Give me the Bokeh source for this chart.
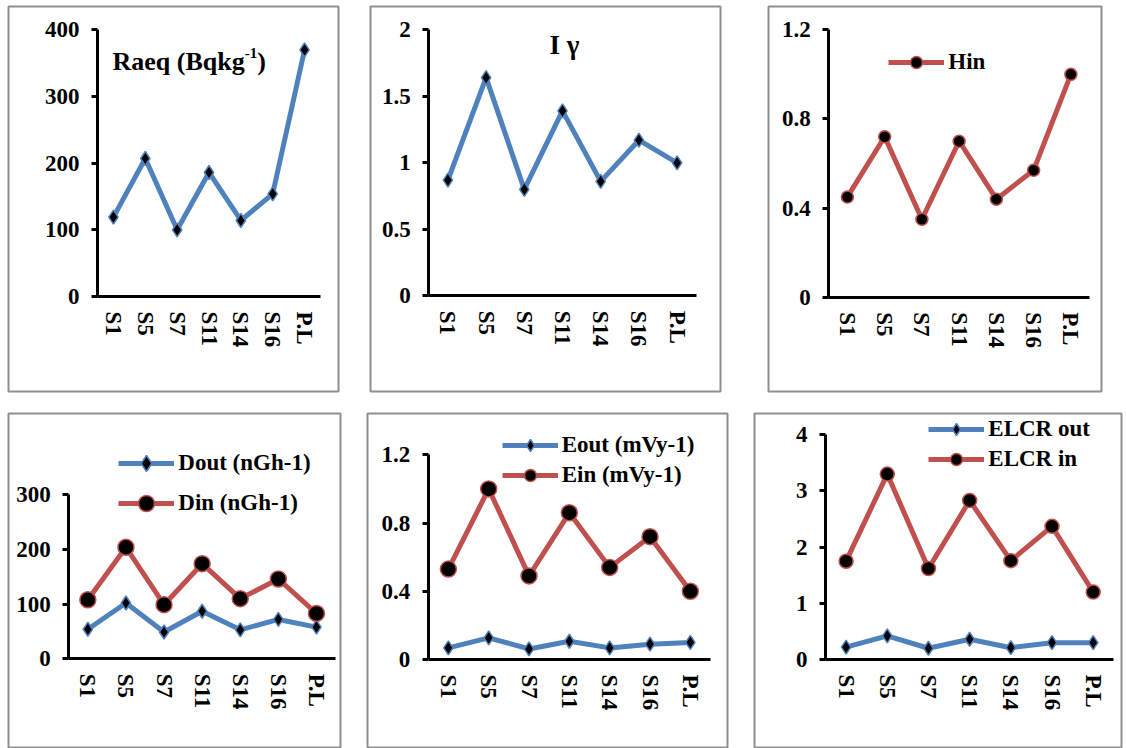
from bokeh.plotting import figure
from bokeh.models import (Range1d, LinearAxis, FixedTicker, NumeralTickFormatter,
                          Legend, LegendItem, Label)
from bokeh.layouts import column, row
from bokeh.embed import file_html
from bokeh.resources import INLINE

# ---------------- data ----------------
sites = ["S1", "S5", "S7", "S11", "S14", "S16", "P.L"]
raeq = [119, 207, 100, 186, 114, 154, 370]
i_gamma = [0.87, 1.64, 0.80, 1.39, 0.86, 1.17, 1.00]
h_in = [0.45, 0.72, 0.35, 0.70, 0.44, 0.57, 1.00]
d_out = [54, 102, 49, 87, 53, 72, 58]
d_in = [108, 204, 99, 174, 110, 146, 83]
e_out = [0.068, 0.127, 0.062, 0.107, 0.068, 0.090, 0.100]
e_in = [0.53, 1.00, 0.49, 0.86, 0.54, 0.72, 0.40]
elcr_out = [0.22, 0.42, 0.20, 0.36, 0.21, 0.30, 0.30]
elcr_in = [1.75, 3.30, 1.62, 2.83, 1.76, 2.37, 1.20]

raeq_ticks = [0, 100, 200, 300, 400]
igamma_ticks = [0, 0.5, 1, 1.5, 2]
hin_ticks = [0, 0.4, 0.8, 1.2]
d_ticks = [0, 100, 200, 300]
e_ticks = [0, 0.4, 0.8, 1.2]
elcr_ticks = [0, 1, 2, 3, 4]

# ---------------- style ----------------
FONT = "Liberation Serif"
BLUE = "#4F81BD"
RED = "#C0504D"
BORDER = "#8F8F8F"
xs = list(range(len(sites)))
n = len(sites)


def make_panel(fig_box, frame_box, axis_geo, ticks):
    fx0, fy0, fx1, fy1 = frame_box
    ax, axend, y0px, ytop = axis_geo
    ymax = ticks[-1]
    ux = n / (axend - ax)
    uy = ymax / (y0px - ytop)
    xr = Range1d(-0.5 - (ax - fx0) * ux, (n - 0.5) + (fx1 - axend) * ux)
    yr = Range1d(-(fy1 - y0px) * uy, ymax + (ytop - fy0) * uy)
    p = figure(width=fig_box[2] - fig_box[0], height=fig_box[3] - fig_box[1],
               x_range=xr, y_range=yr, output_backend="svg", toolbar_location=None,
               x_axis_type=None, y_axis_type=None, title=None,
               min_border_left=fx0 - fig_box[0], min_border_right=fig_box[2] - fx1,
               min_border_top=fy0 - fig_box[1], min_border_bottom=fig_box[3] - fy1)
    p.outline_line_color = BORDER
    p.outline_line_width = 2
    p.background_fill_color = "white"
    p.border_fill_color = "white"

    yaxis = LinearAxis(fixed_location=-0.5, bounds=(0, ymax),
                       ticker=FixedTicker(ticks=ticks),
                       formatter=NumeralTickFormatter(format="0.[0]"))
    yaxis.axis_line_width = 3
    yaxis.major_tick_line_width = 3
    yaxis.major_tick_out = 6
    yaxis.major_tick_in = 0
    yaxis.minor_tick_line_color = None
    yaxis.major_label_standoff = 12
    yaxis.major_label_text_font = FONT
    yaxis.major_label_text_font_style = "bold"
    yaxis.major_label_text_font_size = "23px"
    yaxis.major_label_text_color = "black"
    p.add_layout(yaxis, "left")

    xaxis = LinearAxis(fixed_location=0, bounds=(-0.5, n - 0.5),
                       ticker=FixedTicker(ticks=xs),
                       major_label_overrides={i: s for i, s in enumerate(sites)})
    xaxis.axis_line_width = 3
    xaxis.major_tick_line_color = None
    xaxis.major_tick_out = 0
    xaxis.major_tick_in = 0
    xaxis.minor_tick_line_color = None
    xaxis.major_label_orientation = "vertical"
    xaxis.major_label_standoff = 15
    xaxis.major_label_text_font = FONT
    xaxis.major_label_text_font_style = "bold"
    xaxis.major_label_text_font_size = "23px"
    xaxis.major_label_text_color = "black"
    p.add_layout(xaxis, "below")
    return p


def blue_series(p, ys, size=14):
    l = p.line(xs, ys, line_color=BLUE, line_width=5, line_join="round")
    s = p.scatter(xs, ys, marker="diamond", size=size,
                  fill_color="black", line_color=BLUE, line_width=1.5)
    return [l, s]


def red_series(p, ys, size=14):
    l = p.line(xs, ys, line_color=RED, line_width=5, line_join="round")
    s = p.scatter(xs, ys, marker="circle", size=size, fill_color="black",
                  line_color=RED, line_width=1.5)
    return [l, s]


def add_legend(p, items, loc, glyph_h, spacing):
    leg = Legend(items=[LegendItem(label=lab, renderers=r) for lab, r in items],
                 location=loc, orientation="vertical", glyph_width=56,
                 glyph_height=glyph_h, label_height=glyph_h, label_standoff=4,
                 padding=0, margin=0, spacing=spacing, border_line_color=None,
                 background_fill_alpha=0, label_text_font=FONT,
                 label_text_font_style="bold", label_text_font_size="23px",
                 label_text_color="black")
    p.add_layout(leg, "center")


# Panel 1: Raeq
p1 = make_panel((0, 0, 354, 402), (8, 6, 338, 391), (97, 320, 296, 29.3), raeq_ticks)
blue_series(p1, raeq)
t_main = 26
main_w = 5.084 * t_main
p1.add_layout(Label(x=104, y=330, x_units="screen", y_units="screen", text="Raeq (Bqkg",
                    text_font=FONT, text_font_style="bold", text_font_size=f"{t_main}px",
                    text_baseline="alphabetic", text_color="black"))
p1.add_layout(Label(x=104 + main_w, y=339, x_units="screen", y_units="screen", text="-1",
                    text_font=FONT, text_font_style="bold", text_font_size="15px",
                    text_baseline="alphabetic", text_color="black"))
p1.add_layout(Label(x=104 + main_w + 0.833 * 15, y=330, x_units="screen", y_units="screen",
                    text=")", text_font=FONT, text_font_style="bold",
                    text_font_size=f"{t_main}px", text_baseline="alphabetic",
                    text_color="black"))

# Panel 2: I gamma
p2 = make_panel((354, 0, 744, 402), (370, 6, 720, 391), (428.3, 695.7, 295.3, 29.3), igamma_ticks)
blue_series(p2, i_gamma)
p2.add_layout(Label(x=194, y=347, x_units="screen", y_units="screen", text="I γ",
                    text_font=FONT, text_font_style="bold", text_font_size="27px",
                    text_align="center", text_baseline="alphabetic", text_color="black"))

# Panel 3: Hin
p3 = make_panel((744, 0, 1126, 402), (768, 6, 1101, 391), (828.3, 1089, 296.7, 29.3), hin_ticks)
r_hin = red_series(p3, h_in, size=12)
add_legend(p3, [("Hin", r_hin)], (120.3, 314), 30, 0)

# Panel 4: Dout / Din
p4 = make_panel((0, 402, 354, 748), (8, 413, 340, 748), (68.3, 335, 658.3, 494.3), d_ticks)
r_dout = blue_series(p4, d_out)
r_din = red_series(p4, d_in, size=16)
add_legend(p4, [("Dout (nGh-1)", r_dout), ("Din (nGh-1)", r_din)], (110.3, 224.7), 40, 0)

# Panel 5: Eout / Ein
p5 = make_panel((354, 402, 740, 748), (367, 413, 727, 748), (427.7, 710, 659, 454.3), e_ticks)
r_eout = blue_series(p5, e_out)
r_ein = red_series(p5, e_in, size=16)
add_legend(p5, [("Eout (mVy-1)", r_eout), ("Ein (mVy-1)", r_ein)], (134.7, 258), 30, 0)

# Panel 6: ELCR
p6 = make_panel((740, 402, 1126, 748), (754, 413, 1121, 748), (825, 1113.3, 659, 434.3), elcr_ticks)
r_lout = blue_series(p6, elcr_out)
r_lin = red_series(p6, elcr_in, size=14)
add_legend(p6, [("ELCR out", r_lout), ("ELCR in", r_lin)], (174.3, 273.7), 30, 0)

layout = column(row(p1, p2, p3, spacing=0), row(p4, p5, p6, spacing=0), spacing=0)

open("out.html", "w").write(file_html(layout, INLINE))
